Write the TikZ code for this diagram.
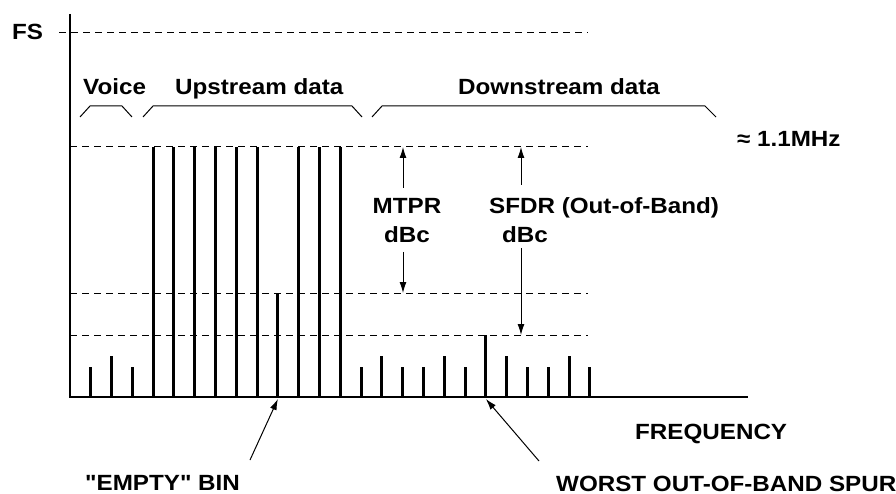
\documentclass[tikz,border=0pt]{standalone}
\usepackage{fontspec}
\setmainfont{Liberation Sans}[FakeStretch=1.1, Ligatures=TeXOff]
\usetikzlibrary{arrows.meta}
\begin{document}
\begin{tikzpicture}[x=1pt,y=-1pt,
  lbl/.style={font=\fontsize{22}{25}\selectfont\bfseries, inner sep=0pt},
  dashline/.style={line width=1pt, dash pattern=on 7pt off 5pt},
  bar/.style={line width=3pt},
  bracket/.style={line width=1pt},
  dimarrow/.style={line width=1pt, -{Latex[length=11pt,width=7pt]}},
  pointer/.style={line width=1pt, -{Latex[length=11pt,width=7pt]}}]
\useasboundingbox (0,0) rectangle (896,494);

% dashed reference levels
\draw[dashline] (59,33) -- (588,33);
\draw[dashline] (70,147) -- (588,147);
\draw[dashline] (70,293) -- (588,293);
\draw[dashline] (70,335) -- (588,335);

% bars
\foreach \k/\t in {0/367,1/356,2/367,
  3/147,4/147,5/147,6/147,7/147,8/147,9/293,10/147,11/147,12/147,
  13/367,14/356,15/367,16/367,17/356,18/367,19/335,20/356,21/367,22/367,23/356,24/367}
  \draw[bar] ({90.7+20.8*\k},397) -- ({90.7+20.8*\k},\t);

% axes
\coordinate (ytop) at (70,14);
\coordinate (origin) at (70,397);
\coordinate (xend) at (748,397);
\draw[line width=2pt] (ytop) -- (origin) -- (xend);

% brackets
\draw[bracket] (80,117) -- (90,106) -- (122,106) -- (132,117);
\draw[bracket] (143,117) -- (153,106) -- (352,106) -- (362,117);
\draw[bracket] (372,117) -- (382,106) -- (705,106) -- (716,117);

% labels
\node[lbl, anchor=base west] (fs) at (12,40) {FS};
\node[lbl, anchor=base west] (voice) at (83,95) {Voice};
\node[lbl, anchor=base west] (up) at (175,95) {Upstream data};
\node[lbl, anchor=base west] (down) at (458,95) {Downstream data};
\node[lbl, anchor=base west] (mhz) at (737,147) {≈ 1.1MHz};
\node[lbl, anchor=base] (mtpr) at (407,214) {MTPR};
\node[lbl, anchor=base] (mtprdbc) at (407,243) {dBc};
\node[lbl, anchor=base west] (sfdr) at (489,214) {SFDR (Out-of-Band)};
\node[lbl, anchor=base] (sfdrdbc) at (525,243) {dBc};
\node[lbl, anchor=base west] (freq) at (635,439) {FREQUENCY};
\node[lbl, anchor=base west] (empty) at (85,490) {"EMPTY" BIN};
\node[lbl, anchor=base west] (worst) at (556,491) {WORST OUT-OF-BAND SPUR};

% dimension arrows
\coordinate (m1) at (403,188); \coordinate (m1t) at (403,147);
\coordinate (m2) at (403,252); \coordinate (m2t) at (403,293);
\coordinate (s1) at (521,185); \coordinate (s1t) at (521,147);
\coordinate (s2) at (521,248); \coordinate (s2t) at (521,335);
\draw[dimarrow] (m1) -- (m1t);
\draw[dimarrow] (m2) -- (m2t);
\draw[dimarrow] (s1) -- (s1t);
\draw[dimarrow] (s2) -- (s2t);

% pointers
\coordinate (emptybin) at (277.9,399);
\coordinate (emptytail) at (250,460);
\coordinate (spur) at (485.9,399);
\coordinate (spurtail) at (539,461);
\draw[pointer] (emptytail) -- (emptybin);
\draw[pointer] (spurtail) -- (spur);
\end{tikzpicture}
\end{document}
